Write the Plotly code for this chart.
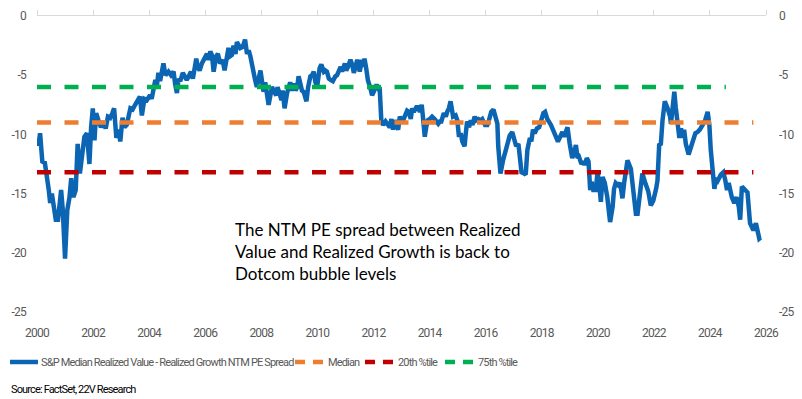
import plotly.graph_objects as go

# Series: S&P Median Realized Value - Realized Growth NTM PE Spread (decimal year, value)
years = [
    2000.05, 2000.11, 2000.19, 2000.28, 2000.42, 2000.47, 2000.53, 2000.58, 2000.67, 2000.75,
    2000.86, 2000.92, 2001.00, 2001.08, 2001.16, 2001.22, 2001.30, 2001.38, 2001.45, 2001.53,
    2001.62, 2001.69, 2001.78, 2001.87, 2001.93, 2001.99, 2002.05, 2002.11, 2002.19, 2002.28,
    2002.37, 2002.45, 2002.53, 2002.61, 2002.69, 2002.75, 2002.83, 2002.91, 2002.97, 2003.05,
    2003.12, 2003.20, 2003.33, 2003.41, 2003.50, 2003.58, 2003.67, 2003.74, 2003.83, 2003.92,
    2004.03, 2004.09, 2004.16, 2004.22, 2004.28, 2004.33, 2004.39, 2004.51, 2004.58, 2004.69,
    2004.78, 2004.87, 2004.93, 2004.99, 2005.05, 2005.11, 2005.20, 2005.28, 2005.34, 2005.41,
    2005.49, 2005.56, 2005.68, 2005.73, 2005.80, 2005.88, 2006.00, 2006.06, 2006.12, 2006.18,
    2006.24, 2006.30, 2006.39, 2006.45, 2006.53, 2006.62, 2006.69, 2006.75, 2006.83, 2006.89,
    2006.95, 2007.01, 2007.08, 2007.13, 2007.25, 2007.34, 2007.42, 2007.49, 2007.55, 2007.61,
    2007.67, 2007.73, 2007.78, 2007.84, 2007.91, 2007.97, 2008.08, 2008.14, 2008.26, 2008.38,
    2008.44, 2008.53, 2008.58, 2008.66, 2008.72, 2008.76, 2008.83, 2008.92, 2009.03, 2009.09,
    2009.16, 2009.22, 2009.28, 2009.33, 2009.39, 2009.45, 2009.51, 2009.61, 2009.67, 2009.75,
    2009.81, 2009.87, 2009.93, 2009.99, 2010.08, 2010.14, 2010.23, 2010.28, 2010.34, 2010.41,
    2010.47, 2010.55, 2010.64, 2010.70, 2010.83, 2010.88, 2010.98, 2011.03, 2011.09, 2011.18,
    2011.24, 2011.30, 2011.36, 2011.42, 2011.51, 2011.59, 2011.63, 2011.68, 2011.74, 2011.80,
    2011.89, 2011.95, 2012.01, 2012.11, 2012.17, 2012.22, 2012.28, 2012.34, 2012.43, 2012.51,
    2012.58, 2012.64, 2012.70, 2012.76, 2012.83, 2012.88, 2012.94, 2012.99, 2013.06, 2013.14,
    2013.20, 2013.26, 2013.33, 2013.38, 2013.44, 2013.53, 2013.58, 2013.66, 2013.72, 2013.76,
    2013.83, 2013.88, 2013.94, 2014.01, 2014.09, 2014.18, 2014.25, 2014.31, 2014.37, 2014.42,
    2014.51, 2014.58, 2014.63, 2014.69, 2014.75, 2014.78, 2014.84, 2014.93, 2014.99, 2015.05,
    2015.11, 2015.17, 2015.25, 2015.28, 2015.34, 2015.41, 2015.47, 2015.53, 2015.61, 2015.67,
    2015.74, 2015.83, 2015.88, 2015.98, 2016.06, 2016.12, 2016.20, 2016.28, 2016.33, 2016.42,
    2016.45, 2016.53, 2016.62, 2016.78, 2016.86, 2016.95, 2017.05, 2017.09, 2017.17, 2017.23,
    2017.28, 2017.37, 2017.43, 2017.49, 2017.58, 2017.63, 2017.69, 2017.75, 2017.83, 2017.91,
    2017.99, 2018.06, 2018.12, 2018.20, 2018.33, 2018.41, 2018.50, 2018.58, 2018.68, 2018.74,
    2018.80, 2018.92, 2019.00, 2019.09, 2019.16, 2019.22, 2019.28, 2019.33, 2019.42, 2019.49,
    2019.53, 2019.61, 2019.67, 2019.73, 2019.78, 2019.84, 2019.93, 2019.99, 2020.05, 2020.11,
    2020.17, 2020.25, 2020.34, 2020.44, 2020.53, 2020.58, 2020.64, 2020.73, 2020.80, 2020.88,
    2020.94, 2021.06, 2021.18, 2021.28, 2021.36, 2021.42, 2021.51, 2021.59, 2021.68, 2021.80,
    2021.89, 2021.98, 2022.08, 2022.13, 2022.19, 2022.25, 2022.31, 2022.39, 2022.49, 2022.58,
    2022.61, 2022.67, 2022.73, 2022.78, 2022.84, 2022.91, 2022.97, 2023.03, 2023.08, 2023.14,
    2023.24, 2023.33, 2023.41, 2023.48, 2023.56, 2023.64, 2023.74, 2023.83, 2023.92, 2023.98,
    2024.03, 2024.09, 2024.16, 2024.22, 2024.28, 2024.39, 2024.48, 2024.55, 2024.61, 2024.67,
    2024.73, 2024.78, 2024.87, 2024.95, 2025.03, 2025.08, 2025.14, 2025.23, 2025.34, 2025.43,
    2025.50, 2025.55, 2025.64, 2025.70, 2025.76, 2025.81,
]
spread = [
    -11.0, -9.9, -12.3, -12.4, -14.7, -15.8, -15.0, -15.8, -17.2, -17.2,
    -14.7, -16.4, -20.5, -16.4, -15.3, -13.7, -15.3, -14.7, -10.8, -13.3,
    -11.3, -10.2, -9.9, -12.5, -9.4, -7.8, -10.5, -8.2, -8.8, -9.4,
    -8.9, -9.5, -8.5, -8.6, -8.2, -7.8, -10.3, -9.6, -10.6, -8.6,
    -9.4, -9.2, -7.8, -7.9, -7.5, -7.1, -6.8, -8.4, -7.0, -7.1,
    -6.7, -7.0, -6.0, -5.4, -5.8, -4.8, -5.5, -4.0, -5.0, -4.7,
    -5.0, -4.7, -5.8, -6.5, -5.3, -5.5, -4.8, -5.1, -5.4, -5.1,
    -4.7, -5.3, -3.6, -4.3, -4.6, -4.0, -3.3, -3.2, -3.7, -3.0,
    -3.3, -4.7, -3.4, -3.2, -4.0, -3.7, -4.6, -3.7, -2.7, -3.4,
    -3.3, -2.5, -3.2, -2.2, -2.7, -2.6, -2.0, -3.2, -2.9, -3.4,
    -4.3, -5.1, -5.4, -6.0, -5.3, -4.6, -6.4, -5.6, -7.5, -6.0,
    -6.3, -6.7, -6.0, -6.8, -7.1, -6.3, -7.8, -6.5, -5.6, -6.3,
    -5.7, -6.3, -6.0, -5.1, -5.6, -6.3, -6.4, -7.2, -6.0, -5.1,
    -5.0, -4.7, -5.6, -6.0, -4.4, -4.1, -4.7, -4.6, -4.7, -5.3,
    -5.4, -5.5, -5.1, -5.0, -4.3, -4.7, -4.0, -4.6, -4.3, -3.7,
    -4.1, -4.8, -4.3, -3.7, -4.7, -3.7, -4.3, -3.6, -4.4, -5.4,
    -6.1, -6.7, -6.4, -5.8, -6.1, -6.0, -8.8, -9.2, -8.9, -9.2,
    -9.4, -8.7, -9.6, -8.8, -9.2, -9.6, -8.5, -8.8, -8.8, -8.2,
    -8.0, -8.1, -8.7, -7.8, -8.1, -7.7, -7.7, -8.1, -7.5, -8.4,
    -10.2, -9.4, -8.8, -8.7, -8.5, -8.7, -8.9, -9.1, -8.9, -8.9,
    -8.2, -8.5, -8.1, -7.8, -7.2, -7.7, -8.5, -8.4, -8.8, -10.2,
    -9.9, -10.6, -11.0, -10.2, -8.9, -9.4, -8.8, -9.2, -8.5, -8.8,
    -8.7, -8.8, -8.7, -9.2, -9.2, -8.8, -8.1, -7.9, -8.4, -9.1,
    -11.0, -13.3, -12.2, -11.0, -10.1, -9.8, -10.8, -11.0, -10.8, -11.9,
    -13.2, -13.3, -13.4, -11.3, -10.3, -10.6, -9.6, -9.9, -9.5, -9.4,
    -8.7, -8.2, -8.1, -8.7, -9.2, -9.6, -10.1, -10.6, -10.1, -9.8,
    -10.2, -9.4, -10.8, -12.0, -11.5, -10.9, -12.0, -11.9, -12.5, -12.3,
    -12.6, -12.0, -12.3, -14.7, -14.0, -14.7, -14.7, -13.2, -14.1, -15.7,
    -13.6, -14.1, -15.3, -17.4, -16.1, -14.6, -14.1, -14.3, -14.1, -15.4,
    -14.1, -12.2, -12.9, -15.1, -16.7, -16.7, -14.6, -13.3, -14.0, -14.8,
    -16.0, -15.6, -14.6, -13.9, -10.9, -10.8, -8.8, -7.2, -7.8, -8.5,
    -9.1, -7.1, -6.4, -7.7, -9.1, -10.3, -9.5, -10.3, -9.6, -10.8,
    -11.7, -11.0, -10.5, -9.9, -9.8, -9.6, -9.2, -8.8, -8.1, -9.2,
    -11.3, -13.3, -14.6, -13.7, -13.9, -13.4, -13.2, -13.9, -14.7, -14.1,
    -14.8, -15.3, -15.8, -15.3, -16.1, -17.2, -14.4, -14.6, -14.9, -17.5,
    -17.8, -18.1, -17.5, -18.2, -18.8, -18.7,
]

# Reference levels
median_level = -9.0
p20_level = -13.2
p75_level = -6.0
level_start = 2000.0
median_end = 2025.55
p20_end = 2025.55
p75_end = 2024.57

tick_years = list(range(2000, 2027, 2))
y_ticks = [0, -5, -10, -15, -20, -25]

series_name = "S&P Median Realized Value - Realized Growth NTM PE Spread"
legend_names = [series_name, "Median", "20th %tile", "75th %tile"]
note_text = "The NTM PE spread between Realized<br>Value and Realized Growth is back to<br>Dotcom bubble levels"
source_text = "Source: FactSet, 22V Research"

BLUE = "#0B65B3"
ORANGE = "#ED7D31"
RED = "#C00000"
GREEN = "#00B050"
GREY = "#595959"
FONT = "Roboto, Liberation Sans, sans-serif"

# plot geometry (pixels)
W, H = 802, 399
L, R, T, B = 37, 36, 16, 87
PW, PH = W - L - R, H - T - B


def px(xp):
    return (xp - L) / PW


def py(yp):
    return (H - B - yp) / PH


def squeeze(txt, ls):
    return f'<span style="letter-spacing:{ls}px">{txt}</span>'


fig = go.Figure()
fig.add_trace(go.Scatter(x=years, y=spread, mode="lines", name=series_name,
                         line=dict(color=BLUE, width=4.5)))
dash = "14px,13.5px"
fig.add_trace(go.Scatter(x=[level_start, median_end], y=[median_level, median_level], mode="lines",
                         name="Median", line=dict(color=ORANGE, width=4.5, dash=dash)))
fig.add_trace(go.Scatter(x=[level_start, p20_end], y=[p20_level, p20_level], mode="lines",
                         name="20th %tile", line=dict(color=RED, width=4.5, dash=dash)))
fig.add_trace(go.Scatter(x=[level_start, p75_end], y=[p75_level, p75_level], mode="lines",
                         name="75th %tile", line=dict(color=GREEN, width=4.5, dash=dash)))
# invisible trace to activate secondary axes (bottom labels / right labels)
fig.add_trace(go.Scatter(x=[years[0]], y=[spread[0]], mode="lines", xaxis="x2", yaxis="y2",
                         showlegend=False, hoverinfo="skip", line=dict(color="rgba(0,0,0,0)")))

# manual legend (sample lines + labels)
legend_y = 362
samples = [  # (x0, x1, color, dash)
    (10, 38, BLUE, "solid"),
    (295, 323, ORANGE, "10px,8px"),
    (365, 393, RED, "10px,8px"),
    (445, 473, GREEN, "10px,8px"),
]
label_x = [39, 326, 396, 476]
shapes = []
for (x0, x1, c, d) in samples:
    shapes.append(dict(type="line", xref="paper", yref="paper", x0=px(x0), x1=px(x1),
                       y0=py(legend_y), y1=py(legend_y), line=dict(color=c, width=4.5, dash=d)))

annotations = []
for name, lx in zip(legend_names, label_x):
    annotations.append(dict(text=squeeze(name, -0.85), x=px(lx), y=py(legend_y), xref="paper", yref="paper",
                            xanchor="left", yanchor="middle", showarrow=False,
                            font=dict(family=FONT, size=11, color=GREY)))
annotations.append(dict(text=note_text, x=px(233), xref="paper", y=-19.85, yref="y",
                        xanchor="left", yanchor="middle", align="left", showarrow=False,
                        font=dict(family="Lato, sans-serif", size=17, color="#000000")))
annotations.append(dict(text=squeeze(source_text, -0.85), x=px(9), y=py(389), xref="paper", yref="paper",
                        xanchor="left", yanchor="middle", showarrow=False,
                        font=dict(family=FONT, size=11, color="#000000")))

tick_font = dict(family=FONT, size=12, color=GREY)
x_ticktext = [squeeze(str(t), -0.8) for t in tick_years]
y_ticktext = [squeeze(str(t), -0.8) for t in y_ticks]

fig.update_layout(
    width=W, height=H,
    margin=dict(l=L, r=R, t=T, b=B, autoexpand=False),
    paper_bgcolor="white", plot_bgcolor="white",
    showlegend=False,
    xaxis=dict(range=[2000, 2026], side="top", tickvals=tick_years, showticklabels=False,
               showline=True, linecolor="#D9D9D9", linewidth=1,
               ticks="outside", ticklen=5, tickcolor="#D9D9D9",
               showgrid=False, zeroline=False, anchor="y", automargin=False),
    xaxis2=dict(range=[2000, 2026], overlaying="x", side="bottom", tickvals=tick_years,
                ticktext=x_ticktext, showline=False, ticks="",
                showgrid=False, zeroline=False, anchor="y", automargin=False,
                tickfont=tick_font, ticklabelstandoff=12),
    yaxis=dict(range=[-25, 0], tickvals=y_ticks, ticktext=y_ticktext, showgrid=False, zeroline=False,
               showline=False, ticks="", automargin=False, tickfont=tick_font, ticklabelstandoff=10),
    yaxis2=dict(range=[-25, 0], tickvals=y_ticks, ticktext=y_ticktext, overlaying="y", side="right",
                anchor="x", showgrid=False, zeroline=False, showline=False, ticks="", automargin=False,
                tickfont=tick_font, ticklabelstandoff=12),
    shapes=shapes,
    annotations=annotations,
)

fig.write_html("out.html", config={"displayModeBar": False},
               post_script="document.body.style.margin='0px';")
